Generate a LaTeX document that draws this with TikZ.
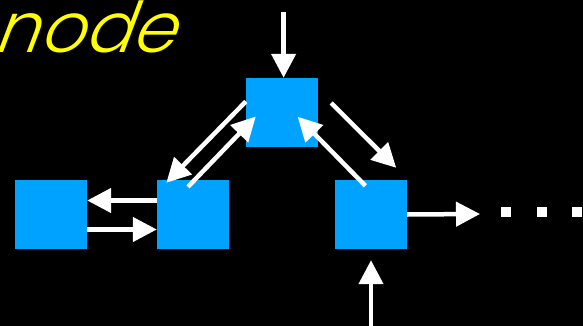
\documentclass[tikz,border=0pt]{standalone}
\usepackage{fontspec}
\newfontfamily\titlefont{Poppins Light Italic}[FakeSlant=0.2]
\usetikzlibrary{arrows.meta}
\definecolor{boxblue}{RGB}{0,162,255}
\definecolor{titleyellow}{RGB}{255,255,0}
\tikzset{
    cell/.style={fill=boxblue, minimum width=72pt, minimum height=69pt, inner sep=0pt},
    arr/.style={draw=white, line width=4.5pt, -{Triangle[length=24pt,width=24pt]}},
    dot/.style={fill=white, minimum size=10pt, inner sep=0pt}
}
\begin{document}
\begin{tikzpicture}[x=1pt,y=-1pt]
        \useasboundingbox [fill=black] (0,0) rectangle (583,326);
        \node [anchor=base east, inner sep=0pt, text=titleyellow, font=\fontsize{70}{70}\selectfont\titlefont] (title) at (177,53) {node};
        \node [cell] (left) at (51,214.5) {};
        \node [cell] (mid) at (193,214.5) {};
        \node [cell] (top) at (282,112.5) {};
        \node [cell] (right) at (371,214.5) {};
        \coordinate (intop) at (283.6,12);
        \coordinate (inbottom) at (371,326);
        \coordinate (out) at (480,214);
        \node [dot] (d1) at (505.5,212) {};
        \node [dot] (d2) at (541.5,212) {};
        \node [dot] (d3) at (577,212) {};
        \draw [arr] (intop) -- (intop |- top.north);
        \draw [arr] ([yshift=14pt]mid.west) -- ([yshift=14pt]left.east);
        \draw [arr] ([yshift=-15pt]left.east) -- ([yshift=-15pt]mid.west);
        \draw [arr] ([yshift=11pt]top.west) -- ([xshift=9.5pt,yshift=-3pt]mid.north west);
        \draw [arr] ([xshift=-5pt,yshift=-7pt]mid.north) -- ([xshift=10pt,yshift=-4pt]top.west);
        \draw [arr] ([xshift=13pt,yshift=9.5pt]top.east) -- ([xshift=-11pt,yshift=12pt]right.north east);
        \draw [arr] ([xshift=-5.6pt,yshift=-6pt]right.north) -- ([xshift=-20.6pt,yshift=-4.2pt]top.east);
        \draw [arr] (right.east) -- (out);
        \draw [arr] (inbottom) -- ([yshift=-11pt]right.south);
\end{tikzpicture}
\end{document}
